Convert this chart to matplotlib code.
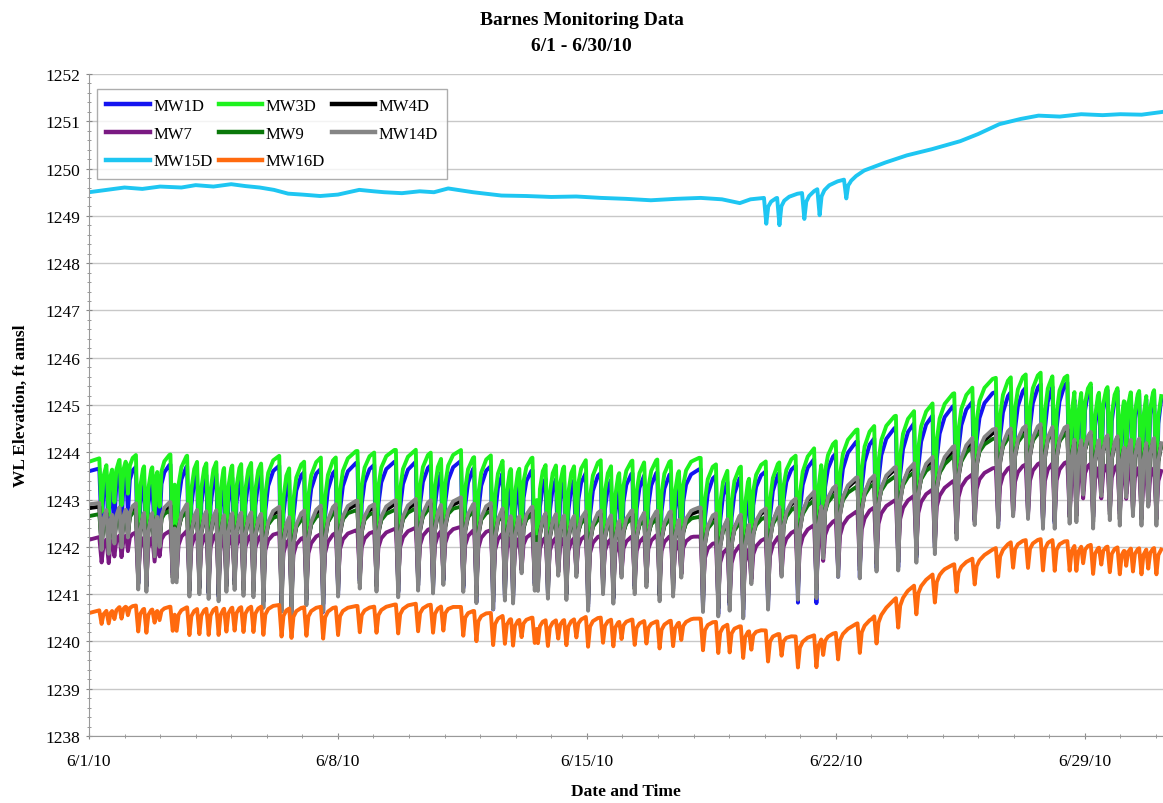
"""Barnes monitoring data - water level elevations, June 2010"""

import numpy as np
import matplotlib
matplotlib.use("Agg")
from matplotlib import pyplot as plt
from matplotlib.ticker import MultipleLocator

# Daily knots (days since 6/1/10 00:00), recovered (non-pumping) levels, ft amsl
DAYS = list(range(31))
MW1D_BASE = [1243.6, 1243.8, 1243.8, 1243.85, 1243.85, 1243.8, 1243.7, 1243.75, 1243.8, 1243.8,
             1243.85, 1243.8, 1243.75, 1243.7, 1243.7, 1243.65, 1243.7, 1243.65, 1243.6, 1243.65,
             1243.8, 1244.05, 1244.35, 1244.6, 1244.9, 1245.15, 1245.4, 1245.6, 1245.6, 1245.6, 1245.6]
MW3D_BASE = [1243.8, 1244.05, 1244.0, 1244.05, 1244.05, 1244.0, 1243.9, 1244.0, 1244.05, 1244.05,
             1244.1, 1244.0, 1244.0, 1243.95, 1243.95, 1243.9, 1243.95, 1243.9, 1243.8, 1243.85,
             1244.0, 1244.3, 1244.6, 1244.85, 1245.15, 1245.45, 1245.7, 1245.8, 1245.65, 1245.6, 1245.6]
MW4D_BASE = [1242.82, 1242.92, 1242.92, 1242.92, 1242.92, 1242.82, 1242.77, 1242.92, 1242.87, 1242.92,
             1243.02, 1242.92, 1242.87, 1242.82, 1242.77, 1242.77, 1242.77, 1242.77, 1242.7, 1242.8,
             1243.05, 1243.3, 1243.5, 1243.7, 1243.92, 1244.32, 1244.52, 1244.62, 1244.52, 1244.47, 1244.47]
MW7_BASE = [1242.15, 1242.35, 1242.35, 1242.4, 1242.4, 1242.35, 1242.25, 1242.35, 1242.35, 1242.4,
            1242.45, 1242.4, 1242.35, 1242.3, 1242.3, 1242.25, 1242.3, 1242.25, 1242.05, 1242.2,
            1242.4, 1242.6, 1242.85, 1243.05, 1243.3, 1243.6, 1243.75, 1243.85, 1243.85, 1243.85, 1243.8]
MW9_BASE = [1242.65, 1242.8, 1242.8, 1242.8, 1242.8, 1242.7, 1242.65, 1242.8, 1242.75, 1242.8,
            1242.9, 1242.8, 1242.75, 1242.7, 1242.65, 1242.65, 1242.65, 1242.65, 1242.55, 1242.65,
            1242.9, 1243.15, 1243.35, 1243.55, 1243.8, 1244.2, 1244.4, 1244.5, 1244.4, 1244.35, 1244.35]
MW14D_BASE = [1242.9, 1243.0, 1243.0, 1243.0, 1243.0, 1242.9, 1242.85, 1243.0, 1242.95, 1243.0,
              1243.1, 1243.0, 1242.95, 1242.9, 1242.85, 1242.85, 1242.85, 1242.85, 1242.75, 1242.85,
              1243.1, 1243.35, 1243.55, 1243.75, 1244.0, 1244.4, 1244.6, 1244.7, 1244.6, 1244.55, 1244.55]
MW16D_BASE = [1240.6, 1240.8, 1240.75, 1240.75, 1240.8, 1240.8, 1240.75, 1240.75, 1240.75, 1240.8,
              1240.8, 1240.65, 1240.55, 1240.5, 1240.55, 1240.5, 1240.45, 1240.5, 1240.4, 1240.25,
              1240.1, 1240.2, 1240.5, 1241.1, 1241.55, 1241.8, 1242.15, 1242.2, 1242.1, 1242.05, 1242.05]

MW15D_DAYS = [0, 0.5, 1, 1.5, 2, 2.6, 3, 3.5, 4, 4.4, 4.8, 5.2, 5.6, 6.0, 6.5, 7, 7.6, 8.0, 8.3,
              8.8, 9.3, 9.7, 10.1, 10.8, 11.6, 12.3, 13, 13.7, 14.4, 15.1, 15.8, 16.5, 17.2,
              17.8, 18.3, 18.6, 19.5, 20.2, 20.8, 21.4, 21.8, 22.4, 23.0, 23.7, 24.5, 25,
              25.6, 26.2, 26.7, 27.3, 27.9, 28.5, 29, 29.6, 30.2]
MW15D_LEVEL = [1249.5, 1249.55, 1249.6, 1249.57, 1249.62, 1249.6, 1249.65, 1249.62, 1249.67,
               1249.63, 1249.6, 1249.55, 1249.47, 1249.45, 1249.42, 1249.45, 1249.55, 1249.52,
               1249.5, 1249.48, 1249.52, 1249.5, 1249.58, 1249.5, 1249.43, 1249.42, 1249.4,
               1249.41, 1249.38, 1249.36, 1249.33, 1249.36, 1249.38, 1249.35, 1249.27, 1249.35,
               1249.42, 1249.5, 1249.68, 1249.8, 1249.96, 1250.13, 1250.28, 1250.41, 1250.58,
               1250.73, 1250.94, 1251.05, 1251.12, 1251.1, 1251.15, 1251.13, 1251.15, 1251.14,
               1251.2]
MW15D_DIP_DAYS = [19.0, 19.37, 20.07, 20.5, 21.25]
MW15D_DIP_LOW = [1248.83, 1248.8, 1248.93, 1249.0, 1249.36]

# Pumping events (day) and drawdown seen at MW14D (ft)
PUMP_DAYS = [0.31, 0.51, 0.67, 0.87, 1.05, 1.34, 1.57, 1.80, 1.94, 2.31, 2.42, 2.78, 3.06, 3.32,
             3.60, 3.82, 4.05, 4.30, 4.58, 4.86, 5.37, 5.65, 6.07, 6.54, 6.96, 7.57, 8.04, 8.65,
             9.21, 9.63, 9.92, 10.48, 10.85, 11.32, 11.65, 11.88, 12.12, 12.49, 12.58, 12.86,
             13.15, 13.38, 13.66, 13.99, 14.41, 14.70, 14.93, 15.30, 15.63, 16.00, 16.38, 16.61,
             17.22, 17.65, 17.97, 18.35, 18.58, 19.05, 19.43, 19.89, 20.41, 20.60, 21.02, 21.63,
             22.10, 22.71, 23.22, 23.74, 24.35, 24.86, 25.52, 25.94, 26.36, 26.78, 27.11, 27.53,
             27.72, 27.91, 28.19, 28.42, 28.66, 28.94, 29.12, 29.31, 29.55, 29.74, 29.97, 30.16]
PUMP_DRAWDOWN = [1.0, 1.1, 0.9, 1.0, 0.8, 1.9, 1.95, 1.2, 1.0, 1.75, 1.75, 2.05, 2.0, 2.1,
                 2.15, 1.95, 1.9, 2.0, 2.0, 2.2, 2.25, 2.3, 2.1, 2.3, 2.05, 1.85, 1.9, 2.05,
                 1.95, 2.05, 1.9, 2.0, 2.2, 2.3, 2.1, 2.15, 1.5, 1.85, 1.85, 2.0,
                 1.5, 2.0, 1.5, 2.2, 1.85, 2.05, 1.5, 1.85, 1.7, 2.0, 1.9, 1.5,
                 2.2, 2.25, 2.1, 2.3, 1.6, 2.2, 1.6, 2.2, 2.3, 1.5, 2.0, 2.15,
                 2.1, 2.2, 2.15, 2.1, 2.0, 1.9, 2.1, 1.95, 2.05, 2.3, 2.3, 2.15,
                 2.1, 1.5, 2.2, 1.5, 2.0, 2.1, 1.5, 1.9, 2.1, 1.7, 2.1, 1.7]

# Drawdown at each well relative to MW14D
WELLS = ["MW1D", "MW3D", "MW4D", "MW7", "MW9", "MW14D", "MW15D", "MW16D"]
DRAWDOWN_RATIO = {"MW1D": 1.35, "MW3D": 1.15, "MW4D": 0.9, "MW7": 0.55,
                  "MW9": 0.6, "MW14D": 1.0, "MW16D": 0.3}
COLORS = {"MW1D": "#1414f0", "MW3D": "#1ef21e", "MW4D": "#000000", "MW7": "#7a1a82",
          "MW9": "#0a780a", "MW14D": "#858585", "MW15D": "#1ec6f2", "MW16D": "#ff6a0e"}

X_TICKS = [0, 7, 14, 21, 28]
X_TICK_LABELS = ["6/1/10", "6/8/10", "6/15/10", "6/22/10", "6/29/10"]

# shape of a pumping dip: time after pump start (day) vs fraction of drawdown
DIP_DT = [-0.02, 0.045, 0.1, 0.18, 0.32, 0.55]
DIP_FRAC = [0.0, 1.0, 0.35, 0.17, 0.06, 0.0]

assert len(PUMP_DAYS) == len(PUMP_DRAWDOWN)


def well_trace(knot_days, knot_vals, event_days, event_drops):
    """Baseline through knots with a dip drawn at each event"""
    pts = set(knot_days)
    for te in event_days:
        pts.update(te + dt for dt in DIP_DT)
    t = np.array(sorted(p for p in pts if 0 <= p <= 30.2))
    base = np.interp(t, knot_days, knot_vals)
    drop = np.zeros_like(t)
    for te, dd in zip(event_days, event_drops):
        drop = np.maximum(drop, dd * np.interp(t - te, DIP_DT, DIP_FRAC, left=0, right=0))
    return t, base - drop


def main():
    """Entry point"""
    plt.rcParams["font.family"] = ["Liberation Serif", "DejaVu Serif"]
    fig = plt.figure(figsize=(11.63, 8.04), dpi=100)
    ax = fig.add_axes([0.0765, 0.0833, 0.9235, 0.8234])

    bases = {"MW1D": MW1D_BASE, "MW3D": MW3D_BASE, "MW4D": MW4D_BASE, "MW7": MW7_BASE,
             "MW9": MW9_BASE, "MW14D": MW14D_BASE, "MW16D": MW16D_BASE}
    handles = {}
    for well in WELLS:
        if well == "MW15D":
            base_at = np.interp(MW15D_DIP_DAYS, MW15D_DAYS, MW15D_LEVEL)
            t, y = well_trace(MW15D_DAYS, MW15D_LEVEL, MW15D_DIP_DAYS,
                              list(base_at - np.array(MW15D_DIP_LOW)))
        else:
            drops = [d * DRAWDOWN_RATIO[well] for d in PUMP_DRAWDOWN]
            t, y = well_trace(DAYS, bases[well], PUMP_DAYS, drops)
        handles[well], = ax.plot(t, y, color=COLORS[well], lw=2.8, label=well,
                                 solid_joinstyle="round")

    ax.set_xlim(0, 30.2)
    ax.set_ylim(1238, 1252)
    ax.yaxis.set_major_locator(MultipleLocator(1))
    ax.yaxis.set_minor_locator(MultipleLocator(0.2))
    ax.set_xticks(X_TICKS)
    ax.set_xticklabels(X_TICK_LABELS)
    ax.xaxis.set_minor_locator(MultipleLocator(1))
    ax.tick_params(axis="both", which="major", labelsize=12.5, length=5, color="#888888",
                   direction="inout")
    ax.tick_params(axis="both", which="minor", length=3, color="#888888", direction="inout")
    ax.tick_params(axis="x", pad=10)
    ax.grid(axis="y", color="#c8c8c8", lw=1.0)
    ax.set_axisbelow(True)
    for side in ["top", "right"]:
        ax.spines[side].set_visible(False)
    for side in ["left", "bottom"]:
        ax.spines[side].set_color("#999999")

    ax.set_xlabel("Date and Time", fontsize=12.5, fontweight="bold", labelpad=10)
    ax.set_ylabel("WL Elevation, ft amsl", fontsize=12.5, fontweight="bold", labelpad=12)
    fig.suptitle("Barnes Monitoring Data\n6/1 - 6/30/10", fontsize=14, fontweight="bold",
                 y=0.985, linespacing=1.7)

    # legend filled row by row like the original (matplotlib fills by column)
    order = ["MW1D", "MW7", "MW15D", "MW3D", "MW9", "MW16D", "MW4D", "MW14D"]
    leg = ax.legend([handles[w] for w in order], order, loc="upper left", ncol=3,
                    fontsize=12, frameon=True, fancybox=False,
                    bbox_to_anchor=(0.0, 0.99), handlelength=2.6, handletextpad=0.2,
                    columnspacing=0.4, labelspacing=0.7, borderpad=0.55)
    leg.get_frame().set_edgecolor("#999999")
    leg.get_frame().set_linewidth(1.0)
    for line in leg.get_lines():
        line.set_linewidth(3.2)

    fig.savefig("out.png", dpi=100)


if __name__ == "__main__":
    main()
